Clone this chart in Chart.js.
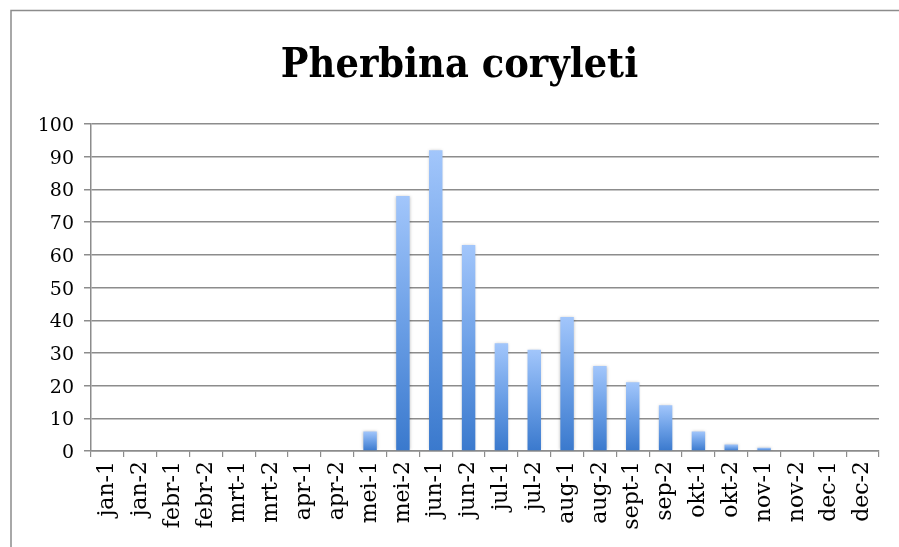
<!DOCTYPE html>
<html lang="nl">
<head>
    <meta charset="UTF-8">
    <title>Pherbina coryleti</title>
    <script src="https://cdn.jsdelivr.net/npm/chart.js"></script>
    <style>
        html, body { margin: 0; padding: 0; background: #fff; }
        #wrap { width: 899px; height: 547px; position: relative; }
    </style>
</head>
<body>
<div id="wrap"><canvas id="chart"></canvas></div>
<script>
    // half-month periods
    const categories = [
        'jan-1', 'jan-2', 'febr-1', 'febr-2', 'mrt-1', 'mrt-2',
        'apr-1', 'apr-2', 'mei-1', 'mei-2', 'jun-1', 'jun-2',
        'jul-1', 'jul-2', 'aug-1', 'aug-2', 'sept-1', 'sep-2',
        'okt-1', 'okt-2', 'nov-1', 'nov-2', 'dec-1', 'dec-2'
    ];
    const counts = [0, 0, 0, 0, 0, 0, 0, 0, 6, 78, 92, 63, 33, 31, 41, 26, 21, 14, 6, 2, 1, 0, 0, 0];
    const yMin = 0, yMax = 100, yStep = 10;

    const serif = "'DejaVu Serif', serif";

    // vertical gradient per bar: light on top, darker at the base
    function barFill(c) {
        const chart = c.chart;
        const y = chart.scales.y;
        if (!y || c.raw == null) return '#5f95df';
        const top = y.getPixelForValue(c.raw);
        const bot = y.getPixelForValue(0);
        if (!isFinite(top) || !isFinite(bot) || top === bot) return '#5f95df';
        const g = chart.ctx.createLinearGradient(0, top, 0, bot);
        g.addColorStop(0, '#a2c6fb');
        g.addColorStop(0.5, '#6b9fe6');
        g.addColorStop(1, '#3a79cd');
        return g;
    }

    // grey frame round the chart + soft shadow on the bars
    const frame = {
        id: 'frame',
        beforeDraw(chart) {
            const ctx = chart.ctx;
            ctx.save();
            ctx.strokeStyle = '#8c8c8c';
            ctx.lineWidth = 1.5;
            ctx.beginPath();
            ctx.moveTo(11, chart.height);
            ctx.lineTo(11, 10.5);
            ctx.lineTo(chart.width, 10.5);
            ctx.stroke();
            ctx.restore();
        },
        beforeDatasetsDraw(chart) {
            const ctx = chart.ctx;
            ctx.save();
            ctx.shadowColor = 'rgba(0,0,0,0.25)';
            ctx.shadowBlur = 3;
        },
        afterDatasetsDraw(chart) {
            chart.ctx.restore();
        }
    };

    new Chart(document.getElementById('chart'), {
        type: 'bar',
        data: {
            labels: categories,
            datasets: [{
                data: counts,
                backgroundColor: barFill,
                borderWidth: 0,
                barPercentage: 0.41,
                categoryPercentage: 1
            }]
        },
        options: {
            responsive: true,
            maintainAspectRatio: false,
            animation: false,
            layout: { padding: { left: 40, right: 20, top: 0, bottom: 0 } },
            plugins: {
                legend: { display: false },
                tooltip: { enabled: false },
                title: {
                    display: true,
                    text: 'Pherbina coryleti',
                    color: '#000',
                    font: { family: "'DejaVu Serif Condensed', 'DejaVu Serif', serif", size: 41, weight: 'bold', lineHeight: 1.2 },
                    padding: { top: 42, bottom: 33 }
                }
            },
            scales: {
                x: {
                    grid: {
                        display: true,
                        drawOnChartArea: false,
                        drawTicks: true,
                        tickLength: 6,
                        color: '#8c8c8c',
                        lineWidth: 1.2
                    },
                    border: { display: true, color: '#8c8c8c', width: 1.5 },
                    ticks: {
                        color: '#000',
                        font: { family: serif, size: 22 },
                        minRotation: 90,
                        maxRotation: 90,
                        autoSkip: false,
                        padding: 4
                    },
                    afterFit(scale) { scale.height = 96; }
                },
                y: {
                    min: yMin,
                    max: yMax,
                    grid: {
                        color: '#8c8c8c',
                        lineWidth: 1.5,
                        tickLength: 7
                    },
                    border: { display: true, color: '#8c8c8c', width: 1.5 },
                    ticks: {
                        stepSize: yStep,
                        color: '#000',
                        font: { family: serif, size: 19 },
                        padding: 10,
                        labelOffset: 2
                    },
                    afterFit(scale) { scale.width = 51; }
                }
            }
        },
        plugins: [frame]
    });
</script>
</body>
</html>
